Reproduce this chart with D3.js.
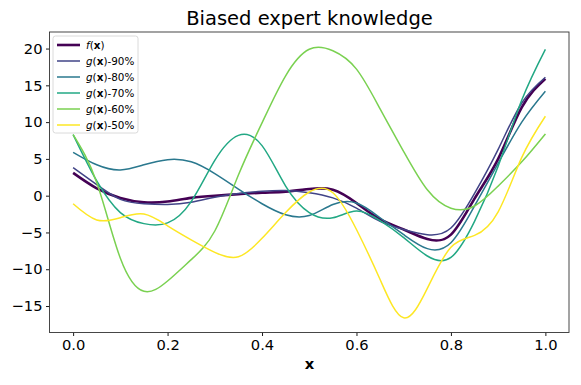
<!DOCTYPE html>
<html>
<head>
<meta charset="utf-8">
<script src="https://cdn.jsdelivr.net/npm/d3@7"></script>
<style>
    body { margin: 0; background: #fff; }
    text { font-family: "DejaVu Sans", sans-serif; }
</style>
</head>
<body>
<div id="wrapper"></div>
<script>
// x grid shared by all series
const xValues = [0, 0.05, 0.1, 0.15, 0.2, 0.25, 0.3, 0.35, 0.4, 0.45, 0.5,
                 0.55, 0.6, 0.65, 0.7, 0.75, 0.8, 0.85, 0.9, 0.95, 1.0];

const fValues   = [3.1, 1.0, -0.3, -0.9, -0.8, -0.3, 0.0, 0.2, 0.4, 0.55, 0.9,
                   0.8, -1.0, -3.2, -4.6, -5.9, -5.3, -0.4, 5.0, 12.0, 15.9];
const g90Values = [3.8, 1.5, -0.5, -1.1, -1.2, -0.9, -0.2, 0.3, 0.6, 0.7, 0.4,
                   -0.3, -1.7, -3.5, -4.6, -5.3, -4.4, 0.3, 6.3, 12.6, 16.1];
const g80Values = [5.9, 4.2, 3.5, 4.2, 4.9, 4.6, 3.0, 0.9, -1.1, -2.6, -2.7,
                   -1.2, -1.0, -3.0, -5.3, -7.2, -6.4, -1.4, 4.4, 10.0, 14.2];
const g70Values = [8.3, 2.0, -2.3, -3.8, -3.7, -0.8, 4.8, 8.2, 6.8, 1.3, -2.3,
                   -3.0, -2.1, -3.4, -5.7, -8.2, -8.4, -3.5, 4.0, 13.0, 19.9];
const g60Values = [8.3, 1.8, -8.5, -13.0, -11.6, -8.7, -4.8, 2.8, 9.9, 16.3, 19.9,
                   19.7, 17.2, 11.8, 6.0, 0.8, -1.7, -1.4, 1.3, 4.6, 8.4];
const g50Values = [-1.1, -3.3, -3.0, -2.5, -4.1, -6.0, -7.7, -8.3, -5.8, -2.3, 0.5,
                   0.4, -4.6, -11.4, -16.6, -12.6, -7.0, -5.4, -2.2, 5.2, 10.8];

const seriesNames = ["f", "90%", "80%", "70%", "60%", "50%"];
const xTicks = [0, 0.2, 0.4, 0.6, 0.8, 1.0];
const yTicks = [-15, -10, -5, 0, 5, 10, 15, 20];

let width = 581, height = 385;

let svg = d3.select("#wrapper")
            .append("svg")
            .attr("width", width)
            .attr("height", height);

let xScale = d3.scaleLinear()
                .domain([-0.05, 1.05])
                .range([49.5, 569]);

let yScale = d3.scaleLinear()
                .domain([-18.6, 22.25])
                .range([332.5, 32]);

let colorScale = d3.scaleSequential(d3.interpolateViridis)
                    .domain([0, seriesNames.length - 1]);

let seriesData = [fValues, g90Values, g80Values, g70Values, g60Values, g50Values]
    .map((vals, i) => ({
        name: seriesNames[i],
        color: colorScale(i),
        width: i == 0 ? 2.6 : 1.5,
        points: vals.map((v, j) => ({x: xValues[j], y: v}))
    }));

// axes
let xAxisFunction = d3.axisBottom(xScale)
                        .tickValues(xTicks)
                        .tickFormat(d3.format(".1f"))
                        .tickSize(3.5)
                        .tickPadding(4);

let xG = svg.append("g")
            .attr("transform", `translate(0, 332.5)`)
            .call(xAxisFunction);

let yAxisFunction = d3.axisLeft(yScale)
                        .tickValues(yTicks)
                        .tickFormat(d => d < 0 ? "\u2212" + Math.abs(d) : d)
                        .tickSize(3.5)
                        .tickPadding(3.5);

let yG = svg.append("g")
            .attr("transform", `translate(49.5, 0)`)
            .call(yAxisFunction);

[xG, yG].forEach(g => {
    g.select(".domain").remove();
    g.selectAll(".tick line").attr("stroke", "#000").attr("stroke-width", 0.9);
    g.selectAll(".tick text")
        .style("font-size", "14.7px")
        .style("font-family", "DejaVu Sans")
        .attr("fill", "#000");
});

const dMaker = d3.line()
            .x(d => xScale(d.x))
            .y(d => yScale(d.y))
            .curve(d3.curveNatural);

svg.append("defs")
    .append("clipPath")
    .attr("id", "plotClip")
    .append("rect")
    .attr("x", 49.5).attr("y", 32)
    .attr("width", 519.5).attr("height", 300.5);

svg.append("g")
    .attr("clip-path", "url(#plotClip)")
    .selectAll("path")
    .data(seriesData)
    .enter()
    .append("path")
    .attr("fill", "none")
    .attr("stroke", d => d.color)
    .attr("stroke-width", d => d.width)
    .attr("d", d => dMaker(d.points));

// frame
svg.append("rect")
    .attr("x", 49.5).attr("y", 32)
    .attr("width", 519.5).attr("height", 300.5)
    .attr("fill", "none")
    .attr("stroke", "#333")
    .attr("stroke-width", 0.9);

svg.append("text")
    .attr("x", 309.5)
    .attr("y", 25)
    .attr("text-anchor", "middle")
    .style("font-size", "19.5px")
    .text("Biased expert knowledge");

svg.append("text")
    .attr("x", 309.5)
    .attr("y", 369)
    .attr("text-anchor", "middle")
    .style("font-size", "14.7px")
    .style("font-weight", "bold")
    .text("x");

// legend
let legend = svg.append("g")
                .attr("transform", "translate(53, 36)");

legend.append("rect")
    .attr("width", 85)
    .attr("height", 97)
    .attr("rx", 2.5)
    .attr("fill", "#fff")
    .attr("fill-opacity", 0.8)
    .attr("stroke", "#d0d0d0")
    .attr("stroke-width", 0.8);

let rows = legend.selectAll("g.row")
                .data(seriesData)
                .enter()
                .append("g")
                .attr("class", "row")
                .attr("transform", (d, i) => `translate(0, ${9 + i * 16})`);

rows.append("line")
    .attr("x1", 4).attr("x2", 27)
    .attr("stroke", d => d.color)
    .attr("stroke-width", d => d.width);

let labels = rows.append("text")
                .attr("x", 33)
                .attr("y", 3.7)
                .style("font-size", "10.4px");

labels.each(function(d) {
    let t = d3.select(this);
    t.append("tspan").style("font-style", "italic").text(d.name == "f" ? "f" : "g");
    t.append("tspan").text("(");
    t.append("tspan").style("font-weight", "bold").text("x");
    t.append("tspan").text(d.name == "f" ? ")" : ")-" + d.name);
});
</script>
</body>
</html>
